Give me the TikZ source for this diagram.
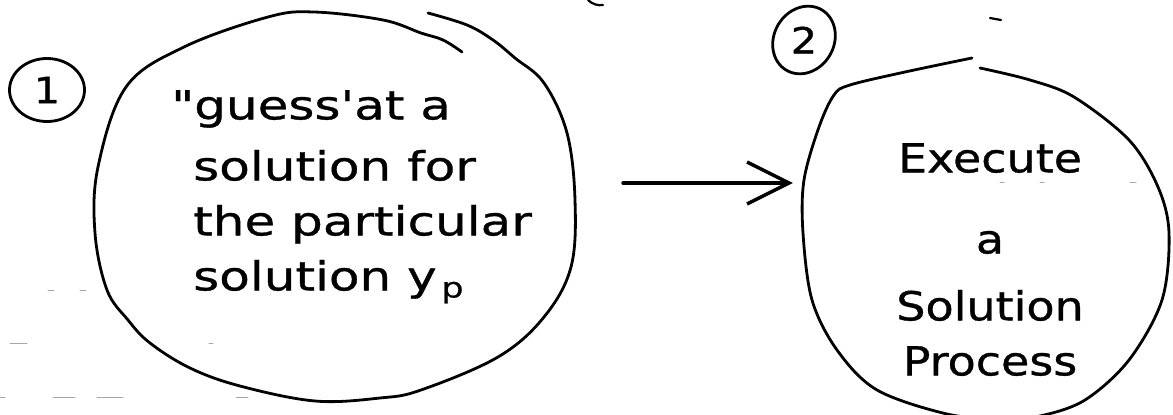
\documentclass[tikz,border=0pt]{standalone}
\usepackage{fontspec}
\newfontfamily\handfont{DejaVu Sans}[FakeStretch=1.25,FakeBold=0.8]
\newfontfamily\handfontB{DejaVu Sans}[FakeStretch=1.15,FakeBold=0.8]
\usetikzlibrary{arrows.meta,shapes.geometric}
\begin{document}
\begin{tikzpicture}[x=1pt,y=-1pt,line cap=round,line join=round,
  ink/.style={draw=black,line width=2.8pt},
  inkthin/.style={draw=black,line width=2.2pt},
  faint/.style={draw=black!35,line width=1pt},
  hand/.style={font=\handfont\fontsize{40}{55}\selectfont,inner sep=0pt},
  handB/.style={font=\handfontB\fontsize{40}{55}\selectfont,inner sep=0pt},
  bubble/.style={ellipse,draw=none,inner sep=0pt},
  num/.style={ellipse,draw=black,line width=2.8pt,inner sep=0pt,font=\handfontB\fontsize{36}{36}\selectfont},
  arrowline/.style={ink,line width=3.4pt,-{Straight Barb[length=42pt,width=42pt]}}]
\useasboundingbox (0,0) rectangle (1173,415);

% invisible anchors for the two bubbles
\node[bubble,minimum width=485pt,minimum height=390pt] (c1) at (333,207) {};
\node[bubble,minimum width=366pt,minimum height=350pt] (c2) at (986,240) {};

% bubble 1 (hand drawn)
\draw[ink] plot[smooth,tension=0.6] coordinates {(462,52) (443,40) (421,33) (383,20) (314,12) (268,17) (184,47) (126,87) (98,167) (95,233) (107,290) (128,320) (150,343) (190,368) (240,386) (315,401) (380,398) (421,390) (498,357) (544,317) (571,267) (575,200) (567,133) (544,83) (515,58) (493,40) (467,25) (428,13)};

% bubble 2 (hand drawn)
\draw[ink] plot[smooth,tension=0.55] coordinates {(980,68) (1030,80) (1074,97) (1129,140) (1158,187) (1169,233) (1162,300) (1129,360) (1085,400) (1040,416) (1001,419) (947,414) (877,390) (837,350) (812,300) (803,233) (804,180) (819,127) (834,95) (850,85) (905,72) (972,58)};

% circled numbers
\node[num,minimum width=75pt,minimum height=63pt] (n1) at (47,90) {1};
\node[num,minimum width=70pt,minimum height=60pt,rotate=60] (n2) at (804,40) {\rotatebox{-60}{2}};

% texts
\node[hand,align=left,anchor=north west] (t1) at (193,90)
  {\hspace*{-22pt}"guess'at a\\[6pt]solution for\\the particular\\solution y\textsubscript{\,p}};
\node[handB,align=center,anchor=north] (t2) at (990,143)
  {Execute\\[26pt]a\\[12pt]Solution\\Process};

% connector
\coordinate (a0) at (623,183);
\draw[arrowline,shorten >=10pt] (a0) -- (a0 -| c2.west);

% stray pen marks
\draw[inkthin] (588,0) .. controls (592,4) and (598,6) .. (603,5);
\draw[inkthin] (990,18) -- (1001,20);

% faint ruled-paper specks
\draw[faint] (48,290) -- (54,290) (80,290) -- (86,290) (10,343) -- (27,343) (209,343) -- (213,343)
  (0,397) -- (5,397) (53,397) -- (75,397) (97,397) -- (123,397) (236,397) -- (248,397)
  (1000,182) -- (1004,182) (1040,182) -- (1044,182) (1130,182) -- (1136,182);
\end{tikzpicture}
\end{document}
